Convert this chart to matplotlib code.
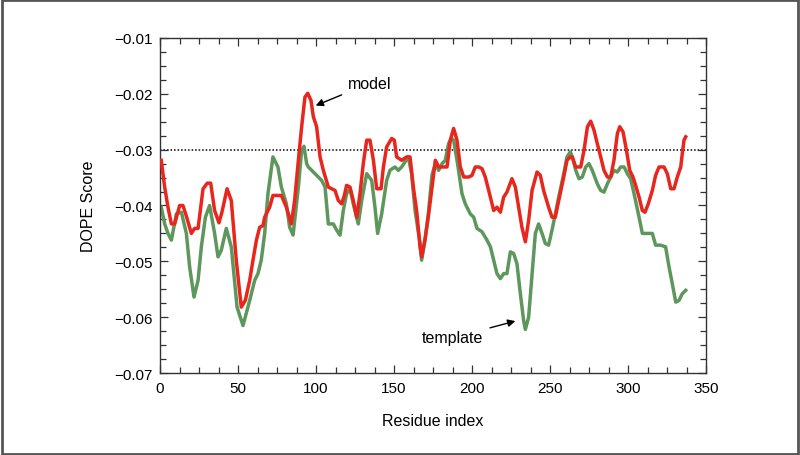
import matplotlib
matplotlib.use("Agg")
import matplotlib.pyplot as plt
from matplotlib.patches import Rectangle
from matplotlib.ticker import MultipleLocator, FuncFormatter

plt.rcParams['font.family'] = ['Liberation Sans', 'DejaVu Sans']

# ---- data ----
model_x = [0.8, 3.0, 5.1, 7.3, 9.4, 12.6, 14.7, 17.0, 20.1, 22.2, 24.4, 27.6, 30.3, 32.5, 35.0,
           37.8, 39.7, 43.0, 45.7, 48.9, 52.1, 54.7, 57.5, 59.6, 61.8, 63.9, 66.0, 67.1, 70.3,
           72.4, 77.8, 81.0, 84.2, 86.3, 88.7, 90.8, 92.9, 94.7, 96.8, 98.3, 100.4, 102.6,
           104.7, 107.9, 110.0, 112.2, 114.3, 116.4, 118.2, 119.6, 121.8, 123.9, 126.1, 128.2,
           130.3, 132.5, 134.6, 136.8, 138.9, 141.7, 143.2, 145.3, 148.5, 150.2, 151.7, 154.9,
           158.1, 160.3, 162.4, 164.5, 166.7, 167.7, 169.9, 172.0, 174.4, 176.5, 177.6, 178.6,
           180.8, 184.0, 186.1, 188.2, 190.4, 192.5, 194.7, 197.9, 200.0, 202.1, 204.3, 206.4,
           208.5, 210.7, 212.8, 213.9, 216.0, 218.2, 220.3, 222.4, 225.6, 227.8, 229.9, 232.0,
           234.2, 236.3, 238.5, 241.7, 243.8, 245.9, 249.1, 251.3, 253.4, 255.6, 258.8, 260.9,
           263.0, 264.3, 266.5, 269.7, 271.8, 274.0, 276.1, 278.2, 280.3, 282.5, 284.6, 286.8,
           288.9, 291.0, 293.2, 294.7, 296.8, 299.0, 301.1, 303.2, 304.9, 307.1, 309.2, 310.9,
           313.0, 315.6, 317.7, 319.9, 323.1, 325.2, 327.4, 329.5, 331.6, 333.8, 334.8, 335.9,
           337.0]
model_y = [-0.0319, -0.0367, -0.0403, -0.0433, -0.0433, -0.0400, -0.0400, -0.0420, -0.0450,
           -0.0441, -0.0441, -0.0370, -0.0360, -0.0360, -0.0409, -0.0431, -0.0412, -0.0370,
           -0.0391, -0.0498, -0.0582, -0.0570, -0.0534, -0.0498, -0.0462, -0.0439, -0.0436,
           -0.0421, -0.0403, -0.0382, -0.0382, -0.0403, -0.0433, -0.0391, -0.0319, -0.0259,
           -0.0206, -0.0199, -0.0212, -0.0241, -0.0259, -0.0313, -0.0337, -0.0367, -0.0370,
           -0.0373, -0.0391, -0.0397, -0.0382, -0.0364, -0.0367, -0.0391, -0.0421, -0.0379,
           -0.0325, -0.0283, -0.0283, -0.0319, -0.0370, -0.0370, -0.0331, -0.0295, -0.0280,
           -0.0283, -0.0313, -0.0319, -0.0313, -0.0313, -0.0367, -0.0409, -0.0474, -0.0492,
           -0.0460, -0.0420, -0.0367, -0.0319, -0.0325, -0.0331, -0.0331, -0.0331, -0.0283,
           -0.0262, -0.0283, -0.0331, -0.0349, -0.0349, -0.0346, -0.0331, -0.0331, -0.0334,
           -0.0349, -0.0373, -0.0397, -0.0409, -0.0403, -0.0412, -0.0385, -0.0376, -0.0352,
           -0.0367, -0.0403, -0.0439, -0.0465, -0.0427, -0.0373, -0.0340, -0.0346, -0.0373,
           -0.0403, -0.0421, -0.0421, -0.0391, -0.0349, -0.0319, -0.0313, -0.0313, -0.0331,
           -0.0331, -0.0301, -0.0259, -0.0249, -0.0265, -0.0289, -0.0313, -0.0337, -0.0349,
           -0.0349, -0.0319, -0.0271, -0.0259, -0.0268, -0.0301, -0.0337, -0.0349, -0.0364,
           -0.0385, -0.0409, -0.0412, -0.0397, -0.0373, -0.0346, -0.0331, -0.0331, -0.0343,
           -0.0370, -0.0370, -0.0349, -0.0331, -0.0307, -0.0283, -0.0277]

template_x = [0.8, 3.0, 5.1, 7.3, 10.5, 13.7, 16.9, 19.0, 21.8, 24.4, 26.5, 29.1, 31.8, 35.0,
              37.2, 39.3, 42.5, 45.7, 49.4, 53.2, 57.5, 60.7, 62.8, 64.9, 67.1, 69.2, 72.4,
              75.6, 77.8, 81.0, 83.1, 85.3, 88.7, 90.8, 92.3, 94.0, 95.1, 99.4, 103.6, 105.8,
              107.9, 111.1, 113.2, 115.4, 117.5, 119.6, 121.8, 123.9, 127.1, 129.3, 132.5,
              135.7, 137.8, 139.5, 142.1, 145.3, 147.4, 150.6, 152.8, 154.9, 159.2, 161.3,
              163.5, 166.7, 167.7, 169.9, 172.0, 174.4, 176.5, 178.6, 180.8, 182.9, 185.0,
              186.8, 188.2, 190.4, 193.6, 195.7, 198.9, 201.1, 203.2, 206.4, 209.6, 211.8,
              213.9, 216.0, 218.2, 220.3, 222.4, 224.6, 226.7, 228.8, 231.0, 233.1, 234.2,
              236.3, 238.5, 240.6, 242.7, 244.9, 247.0, 249.1, 251.3, 253.4, 255.6, 258.8,
              260.9, 263.0, 264.3, 266.5, 268.6, 270.7, 272.9, 275.0, 277.1, 280.3, 282.5,
              284.6, 286.8, 288.9, 291.0, 293.2, 295.3, 297.5, 299.6, 301.7, 303.9, 307.1,
              309.2, 312.4, 315.6, 317.7, 320.9, 324.1, 326.3, 328.4, 330.6, 332.7, 334.8,
              337.0]
template_y = [-0.0403, -0.0433, -0.0450, -0.0462, -0.0415, -0.0412, -0.0450, -0.0510, -0.0564,
              -0.0534, -0.0474, -0.0421, -0.0400, -0.0450, -0.0492, -0.0480, -0.0441, -0.0474,
              -0.0582, -0.0615, -0.0570, -0.0534, -0.0522, -0.0498, -0.0450, -0.0379, -0.0313,
              -0.0331, -0.0367, -0.0397, -0.0439, -0.0453, -0.0367, -0.0301, -0.0294, -0.0325,
              -0.0331, -0.0343, -0.0355, -0.0367, -0.0433, -0.0433, -0.0444, -0.0453, -0.0409,
              -0.0379, -0.0370, -0.0397, -0.0433, -0.0391, -0.0343, -0.0355, -0.0403, -0.0450,
              -0.0415, -0.0355, -0.0337, -0.0331, -0.0337, -0.0331, -0.0313, -0.0343, -0.0409,
              -0.0468, -0.0498, -0.0462, -0.0415, -0.0345, -0.0325, -0.0337, -0.0325, -0.0319,
              -0.0289, -0.0280, -0.0283, -0.0319, -0.0379, -0.0397, -0.0415, -0.0421, -0.0441,
              -0.0447, -0.0462, -0.0474, -0.0498, -0.0522, -0.0531, -0.0522, -0.0522, -0.0483,
              -0.0486, -0.0504, -0.0558, -0.0606, -0.0622, -0.0600, -0.0522, -0.0450, -0.0433,
              -0.0450, -0.0468, -0.0471, -0.0444, -0.0415, -0.0385, -0.0343, -0.0313, -0.0304,
              -0.0313, -0.0337, -0.0352, -0.0349, -0.0331, -0.0325, -0.0337, -0.0361, -0.0373,
              -0.0376, -0.0361, -0.0349, -0.0337, -0.0340, -0.0331, -0.0331, -0.0343, -0.0352,
              -0.0379, -0.0421, -0.0450, -0.0450, -0.0450, -0.0471, -0.0471, -0.0474, -0.0510,
              -0.0540, -0.0573, -0.0570, -0.0558, -0.0552]

threshold = -0.03
x_ticks = [0, 50, 100, 150, 200, 250, 300, 350]
y_ticks = [-0.07, -0.06, -0.05, -0.04, -0.03, -0.02, -0.01]

# ---- figure ----
fig = plt.figure(figsize=(8.0, 4.56), dpi=100)
ax = fig.add_axes([0.2, 0.1798, 0.6825, 0.7347])

ax.axhline(threshold, color='black', linestyle=(0, (1, 1.3)), linewidth=1.1, zorder=1)
ax.plot(template_x, template_y, color='#5d975c', linewidth=2.5, solid_joinstyle='round', zorder=2)
ax.plot(model_x, model_y, color='#e8261d', linewidth=2.5, solid_joinstyle='round', zorder=3)

ax.set_xlim(0, 350)
ax.set_ylim(-0.07, -0.01)
ax.set_xticks(x_ticks)
ax.set_yticks(y_ticks)
ax.xaxis.set_minor_locator(MultipleLocator(12.5))
ax.yaxis.set_minor_locator(MultipleLocator(0.0025))
ax.yaxis.set_major_formatter(FuncFormatter(lambda v, p: ('%.2f' % v).replace('-', '\u2212')))

ax.tick_params(which='both', direction='in', top=True, right=True, colors='#333333',
               labelcolor='black', labelsize=11)
ax.tick_params(which='major', length=6, width=0.9)
ax.tick_params(which='minor', length=4.5, width=0.9)
ax.tick_params(axis='y', pad=5)
ax.tick_params(axis='x', pad=6)
for s in ax.spines.values():
    s.set_color('#333333')
    s.set_linewidth(1.0)

ax.set_xlabel('Residue index', fontsize=11.5)
ax.set_ylabel('DOPE Score', fontsize=11.5)
ax.xaxis.set_label_coords(0.5, -0.12)
ax.yaxis.set_label_coords(-0.118, 0.5)

ax.annotate('model', xy=(99.8, -0.0221), xytext=(120.7, -0.0181),
            ha='left', va='center', fontsize=11.5,
            arrowprops=dict(arrowstyle='-|>', color='black', lw=1.0,
                            shrinkA=3, shrinkB=0, mutation_scale=11))
ax.annotate('template', xy=(227.8, -0.0607), xytext=(207.2, -0.0637),
            ha='right', va='center', fontsize=11.5,
            arrowprops=dict(arrowstyle='-|>', color='black', lw=1.0,
                            shrinkA=3, shrinkB=0, mutation_scale=11))

# outer frame
fig.patches.append(Rectangle((0.002, 0.003), 0.996, 0.994, transform=fig.transFigure,
                             fill=False, edgecolor='#555555', linewidth=2.0))

fig.savefig('out.png', dpi=100)
